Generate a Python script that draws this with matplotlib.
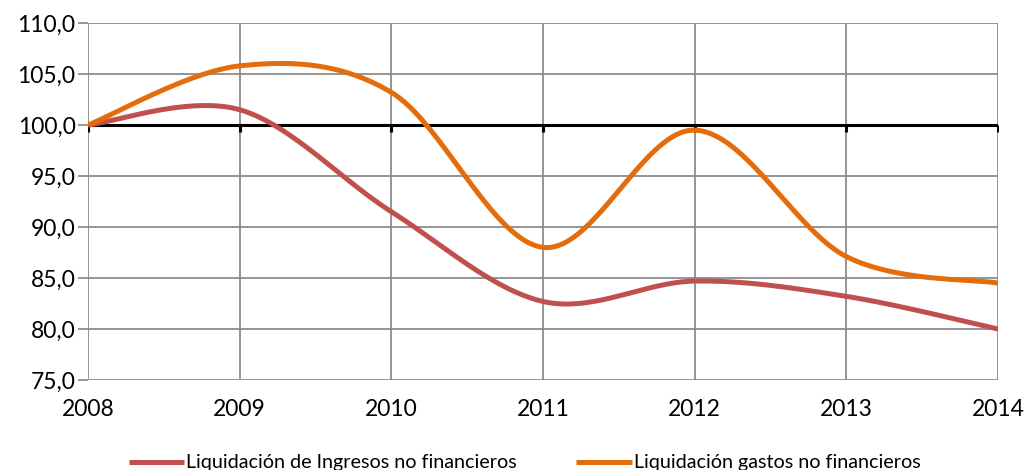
import numpy as np
import matplotlib
matplotlib.use("Agg")
from matplotlib import pyplot as plt

# data
years = [2008, 2009, 2010, 2011, 2012, 2013, 2014]
ingresos = [100.0, 101.5, 91.5, 82.7, 84.7, 83.2, 80.0]
gastos = [100.0, 105.8, 103.2, 88.0, 99.5, 87.1, 84.5]
yticks = [75, 80, 85, 90, 95, 100, 105, 110]

label_ingresos = "Liquidación de Ingresos no financieros"
label_gastos = "Liquidación gastos no financieros"


def excel_smooth(x, y, n=40):
    # bezier smoothing like excel's "smoothed line"
    x = np.asarray(x, float)
    y = np.asarray(y, float)
    px = np.concatenate([[x[0]], x, [x[-1]]])
    py = np.concatenate([[y[0]], y, [y[-1]]])
    t = np.linspace(0, 1, n)
    xs, ys = [], []
    for i in range(len(x) - 1):
        p0x, p0y = px[i + 1], py[i + 1]
        p3x, p3y = px[i + 2], py[i + 2]
        c1x = p0x + (px[i + 2] - px[i]) / 6
        c1y = p0y + (py[i + 2] - py[i]) / 6
        c2x = p3x - (px[i + 3] - px[i + 1]) / 6
        c2y = p3y - (py[i + 3] - py[i + 1]) / 6
        b0 = (1 - t) ** 3
        b1 = 3 * (1 - t) ** 2 * t
        b2 = 3 * (1 - t) * t ** 2
        b3 = t ** 3
        xs.append(b0 * p0x + b1 * c1x + b2 * c2x + b3 * p3x)
        ys.append(b0 * p0y + b1 * c1y + b2 * c2y + b3 * p3y)
    return np.concatenate(xs), np.concatenate(ys)


plt.rcParams['font.family'] = ['Lato', 'DejaVu Sans']

fig = plt.figure(figsize=(10.25, 4.7), dpi=100)
ax = fig.add_axes([0.0859, 0.1915, 0.8878, 0.7595])

grid_col = "#8c8c8c"
for yv in yticks:
    ax.axhline(yv, color=grid_col, lw=1.3, zorder=1)
for xv in years:
    ax.axvline(xv, color=grid_col, lw=1.3, zorder=1)

# category axis crossing at 100
ax.axhline(100, color="black", lw=2.2, zorder=2)
ax.plot(years, [100] * len(years), linestyle="none", marker=3, color="black",
        markersize=5, markeredgewidth=2.2, zorder=2)

sx, sy = excel_smooth(years, ingresos)
ax.plot(sx, sy, color="#C0504D", lw=3.6, solid_capstyle="butt", zorder=3,
        label=label_ingresos)
sx, sy = excel_smooth(years, gastos)
ax.plot(sx, sy, color="#E46C0A", lw=3.6, solid_capstyle="butt", zorder=3,
        label=label_gastos)

ax.set_xlim(2008, 2014)
ax.set_ylim(75, 110)
ax.set_yticks(yticks)
ax.set_yticklabels([f"{v:.1f}".replace(".", ",") for v in yticks], fontsize=16.5)
ax.set_xticks(years)
ax.set_xticklabels([str(v) for v in years], fontsize=16.5)
ax.tick_params(axis="y", length=7, width=1.3, color=grid_col, pad=2)
ax.tick_params(axis="x", length=0, pad=14)
for s in ax.spines.values():
    s.set_visible(False)

fig.legend(loc="center", bbox_to_anchor=(0.512, 0.015), ncol=2, frameon=False,
           fontsize=14.2, handlelength=2.8, handletextpad=0.1, columnspacing=3.0)

fig.savefig("out.png", dpi=100)
